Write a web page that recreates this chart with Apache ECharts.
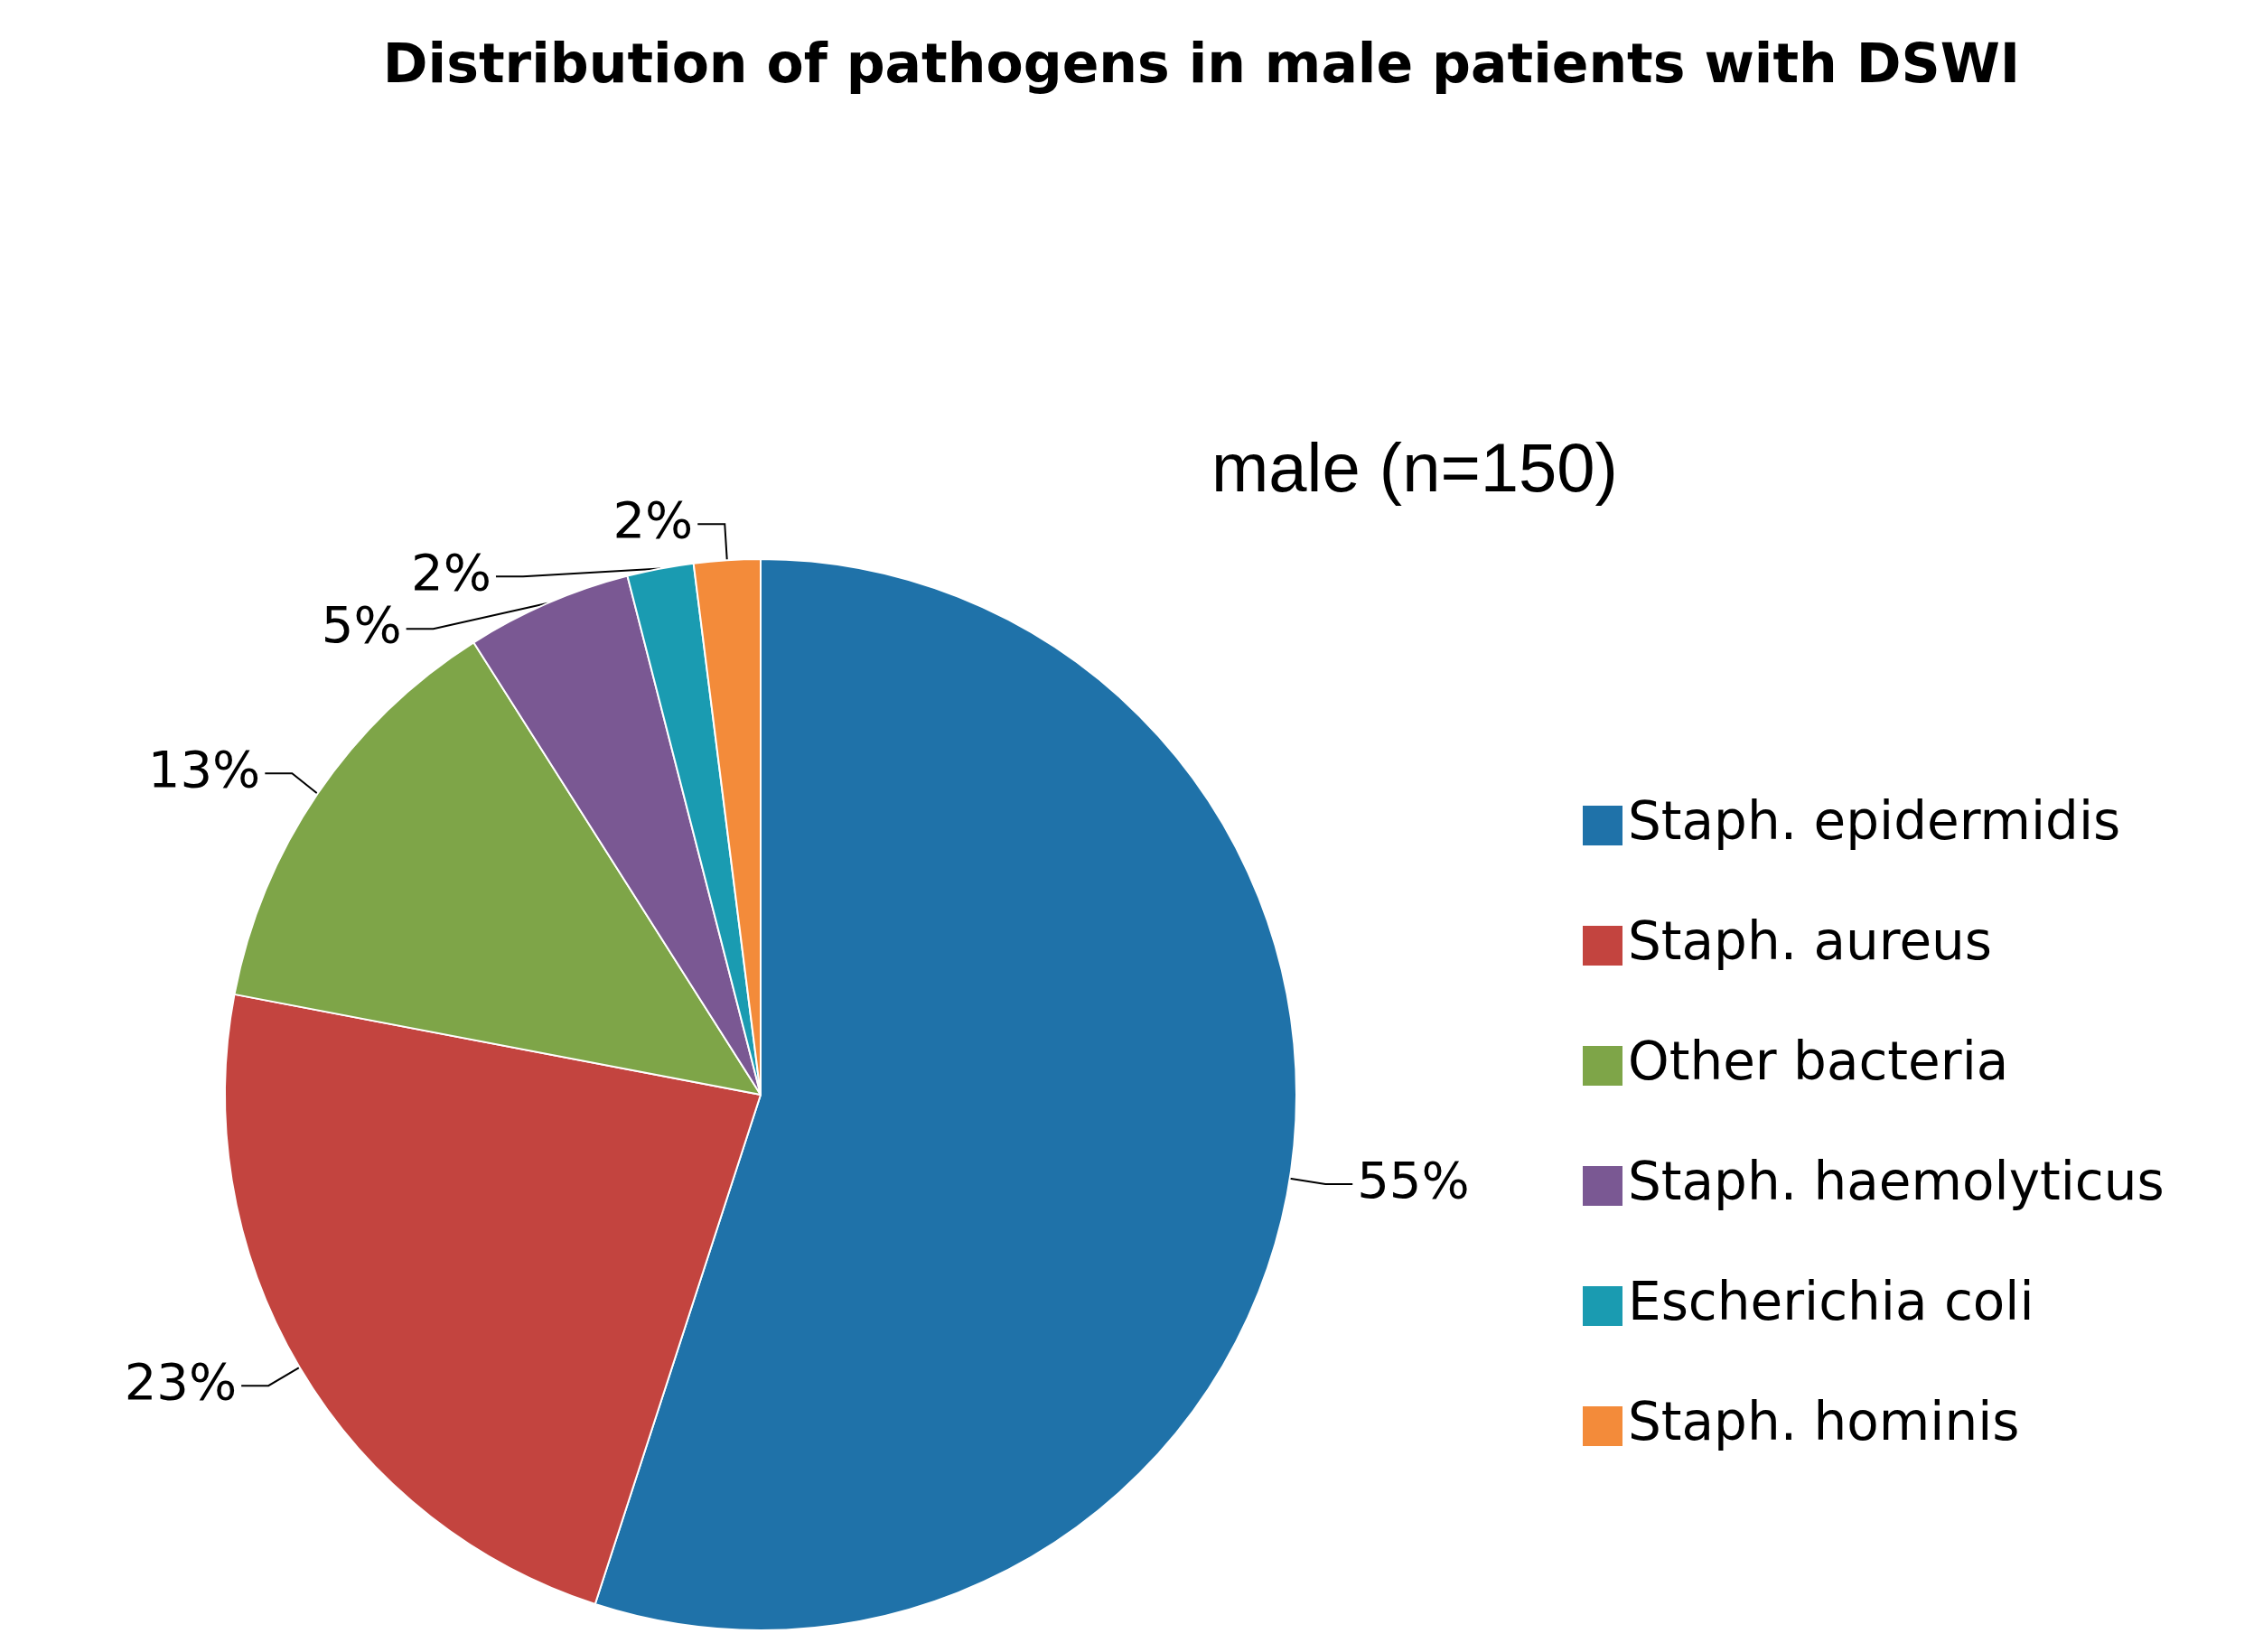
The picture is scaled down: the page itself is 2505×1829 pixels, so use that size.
<!DOCTYPE html>
<html>
<head>
<meta charset="utf-8">
<script src="https://cdn.jsdelivr.net/npm/echarts@6/dist/echarts.min.js"></script>
<style>html,body{margin:0;padding:0;background:#fff}#chart{width:2505px;height:1829px}</style>
</head>
<body>
<div id="chart"></div>
<script>
const categories = ["Staph. epidermidis", "Staph. aureus", "Other bacteria", "Staph. haemolyticus", "Escherichia coli", "Staph. hominis"];
const values = [55, 23, 13, 5, 2, 2];
const colors = ["#1F72A9", "#C3443F", "#7EA548", "#7A5893", "#1A9BB1", "#F38B3A"];

const chart = echarts.init(document.getElementById("chart"));
chart.setOption({
  animation: false,
  title: [
    {
      text: "Distribution of pathogens in male patients with DSWI",
      left: 1325, top: 40, textAlign: "center",
      textStyle: { fontFamily: "DejaVu Sans", fontWeight: "bold", fontSize: 60, color: "#000" }
    },
    {
      text: "male (n=150)",
      left: 1336, top: 480,
      textStyle: { fontFamily: "Liberation Sans", fontWeight: "normal", fontSize: 76, color: "#000" }
    }
  ],
  legend: {
    orient: "vertical",
    left: 1745, top: 880,
    itemWidth: 46, itemHeight: 46, itemGap: 75,
    icon: "rect",
    textStyle: { fontFamily: "DejaVu Sans", fontSize: 58, color: "#000" },
    data: categories
  },
  series: [{
    type: "pie",
    center: [842, 1212],
    radius: 593,
    startAngle: 90,
    clockwise: true,
    itemStyle: { borderColor: "#fff", borderWidth: 2 },
    label: {
      show: true,
      formatter: "{c}%",
      fontFamily: "DejaVu Sans",
      fontSize: 56,
      color: "#000"
    },
    labelLine: { show: true, length: 40, length2: 30, lineStyle: { color: "#000", width: 2 } },
    data: categories.map((c, i) => ({ name: c, value: values[i], itemStyle: { color: colors[i] } }))
  }]
});
</script>
</body>
</html>
